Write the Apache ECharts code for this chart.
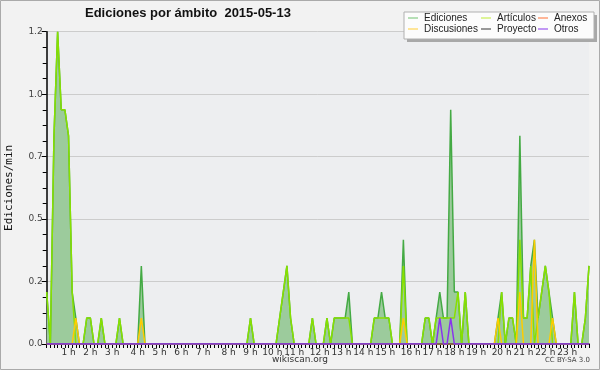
<!DOCTYPE html>
<html><head><meta charset="utf-8">
<script src="https://cdn.jsdelivr.net/npm/echarts@6/dist/echarts.min.js"></script>
<style>html,body{margin:0;padding:0;background:#f2f2f2}#c{width:600px;height:370px}</style>
</head><body><div id="c"></div>
<script>
// 150 time steps of 9.6 minutes across the day
const stepMinutes = 9.6;
const hourLabels = ['1 h','2 h','3 h','4 h','5 h','6 h','7 h','8 h','9 h','10 h','11 h','12 h','13 h','14 h','15 h','16 h','17 h','18 h','19 h','20 h','21 h','22 h','23 h'];
const yTicks = [0, 0.25, 0.5, 0.75, 1.0, 1.25];

const ediciones = [
0.208,0,0.833,1.25,0.9375,0.9375,0.833,0.208,0.104,0,
0,0.104,0.104,0,0,0.104,0,0,0,0,
0.104,0,0,0,0,0,0.3125,0,0,0,
0,0,0,0,0,0,0,0,0,0,
0,0,0,0,0,0,0,0,0,0,
0,0,0,0,0,0,0.104,0,0,0,
0,0,0,0,0.104,0.208,0.3125,0.104,0,0,
0,0,0,0.104,0,0,0,0.104,0,0.104,
0.104,0.104,0.104,0.208,0,0,0,0,0,0,
0.104,0.104,0.208,0.104,0.104,0,0,0,0.417,0,
0,0,0,0,0.104,0.104,0,0.104,0.208,0.104,
0.104,0.9375,0.208,0.208,0,0.208,0,0,0,0,
0,0,0,0,0.104,0.208,0,0.104,0.104,0,
0.833,0.104,0.104,0.3125,0.417,0.104,0.208,0.3125,0.208,0.104,
0,0,0,0,0,0.208,0,0,0.104,0.3125];
const articulos = [
0.208,0,0.833,1.25,0.9375,0.9375,0.833,0.208,0,0,
0,0.104,0.104,0,0,0.104,0,0,0,0,
0.104,0,0,0,0,0,0,0,0,0,
0,0,0,0,0,0,0,0,0,0,
0,0,0,0,0,0,0,0,0,0,
0,0,0,0,0,0,0.104,0,0,0,
0,0,0,0,0.104,0.208,0.3125,0.104,0,0,
0,0,0,0.104,0,0,0,0.104,0,0.104,
0.104,0.104,0.104,0.104,0,0,0,0,0,0,
0.104,0.104,0.104,0.104,0.104,0,0,0,0.3125,0,
0,0,0,0,0.104,0.104,0,0.104,0.104,0.104,
0.104,0.104,0.104,0.208,0,0.208,0,0,0,0,
0,0,0,0,0,0.208,0,0.104,0.104,0,
0.417,0.104,0.104,0.3125,0,0.104,0.208,0.3125,0.208,0,
0,0,0,0,0,0.208,0,0,0.104,0.3125];
const discusiones = [
0,0,0,0,0,0,0,0,0.104,0,
0,0,0,0,0,0,0,0,0,0,
0,0,0,0,0,0,0.104,0,0,0,
0,0,0,0,0,0,0,0,0,0,
0,0,0,0,0,0,0,0,0,0,
0,0,0,0,0,0,0,0,0,0,
0,0,0,0,0,0,0,0,0,0,
0,0,0,0,0,0,0,0,0,0,
0,0,0,0,0,0,0,0,0,0,
0,0,0,0,0,0,0,0,0.104,0,
0,0,0,0,0,0,0,0,0,0,
0,0,0,0,0,0,0,0,0,0,
0,0,0,0,0.104,0,0,0,0,0,
0.208,0,0,0,0.417,0,0,0,0,0.104,
0,0,0,0,0,0,0,0,0,0];
const anexos = [
0,0,0,0,0,0,0,0,0,0,
0,0,0,0,0,0,0,0,0,0,
0,0,0,0,0,0,0,0,0,0,
0,0,0,0,0,0,0,0,0,0,
0,0,0,0,0,0,0,0,0,0,
0,0,0,0,0,0,0,0,0,0,
0,0,0,0,0,0,0,0,0,0,
0,0,0,0,0,0,0,0,0,0,
0,0,0,0,0,0,0,0,0,0,
0,0,0,0,0,0,0,0,0,0,
0,0,0,0,0,0,0,0,0,0,
0,0,0,0,0,0,0,0,0,0,
0,0,0,0,0,0,0,0,0,0,
0,0,0,0,0,0,0,0,0,0,
0,0,0,0,0,0,0,0,0,0];
const proyecto = [
0,0,0,0,0,0,0,0,0,0,
0,0,0,0,0,0,0,0,0,0,
0,0,0,0,0,0,0,0,0,0,
0,0,0,0,0,0,0,0,0,0,
0,0,0,0,0,0,0,0,0,0,
0,0,0,0,0,0,0,0,0,0,
0,0,0,0,0,0,0,0,0,0,
0,0,0,0,0,0,0,0,0,0,
0,0,0,0,0,0,0,0,0,0,
0,0,0,0,0,0,0,0,0,0,
0,0,0,0,0,0,0,0,0,0,
0,0,0,0,0,0,0,0,0,0,
0,0,0,0,0,0,0,0,0,0,
0,0,0,0,0,0,0,0,0,0,
0,0,0,0,0,0,0,0,0,0];
const otros = [
0,0,0,0,0,0,0,0,0,0,
0,0,0,0,0,0,0,0,0,0,
0,0,0,0,0,0,0,0,0,0,
0,0,0,0,0,0,0,0,0,0,
0,0,0,0,0,0,0,0,0,0,
0,0,0,0,0,0,0,0,0,0,
0,0,0,0,0,0,0,0,0,0,
0,0,0,0,0,0,0,0,0,0,
0,0,0,0,0,0,0,0,0,0,
0,0,0,0,0,0,0,0,0,0,
0,0,0,0,0,0,0,0,0.104,0,
0,0.104,0,0,0,0,0,0,0,0,
0,0,0,0,0,0,0,0,0,0,
0,0,0,0,0,0,0,0,0,0,
0,0,0,0,0,0,0,0,0,0];

const categories = ediciones.map((_, i) => {
  const m = Math.round(i * stepMinutes);
  return String(Math.floor(m / 60)).padStart(2, '0') + ':' + String(m % 60).padStart(2, '0');
});
// index of the last step before each hour mark
const labelIndex = {};
hourLabels.forEach((lab, k) => { labelIndex[Math.floor((k + 1) * 60 / stepMinutes)] = lab; });

const chart = echarts.init(document.getElementById('c'), null, {renderer: 'canvas'});
const lineSeries = (name, data, color, z) => ({
  name, type: 'line', data, symbol: 'none', z,
  lineStyle: {color, width: 1.5}, itemStyle: {color}, animation: false
});
const legendText = {fontFamily: 'Liberation Sans', fontSize: 10, color: '#222', padding: [0, 0, 0, 1]};
const legendBase = {orient: 'vertical', itemGap: 1, itemWidth: 10, itemHeight: 1.2, icon: 'rect',
  textStyle: legendText, padding: 0, z: 20};
chart.setOption({
  animation: false,
  backgroundColor: '#f2f2f2',
  title: {text: 'Ediciones por ámbito  2015-05-13', left: 80, top: 2,
    textStyle: {fontFamily: 'Liberation Sans', fontWeight: 'bold', fontSize: 13, color: '#111'}},
  grid: {left: 46.7, right: 11, top: 31.7, bottom: 26, show: true, backgroundColor: '#edeef0',
    borderWidth: 0, containLabel: false, outerBoundsMode: 'none'},
  xAxis: {
    type: 'category', data: categories, boundaryGap: false,
    axisLine: {lineStyle: {color: '#000', width: 1.5}},
    axisTick: {interval: 0, length: 4, lineStyle: {color: '#000'}},
    axisLabel: {interval: (i) => labelIndex[i] !== undefined, formatter: (v, i) => labelIndex[i] || '',
      fontFamily: 'DejaVu Sans', fontSize: 9, color: '#333', margin: 4},
    splitLine: {show: false}
  },
  yAxis: {
    type: 'value', min: 0, max: 1.25, interval: 0.25,
    name: 'Ediciones/min', nameLocation: 'middle', nameGap: 32,
    nameTextStyle: {fontFamily: 'DejaVu Sans Mono', fontSize: 11, color: '#111'},
    axisLine: {show: true, lineStyle: {color: '#000', width: 1.5}},
    axisTick: {show: true, length: 5, lineStyle: {color: '#000'}},
    minorTick: {show: true, splitNumber: 4, length: 4, lineStyle: {color: '#000'}},
    axisLabel: {formatter: (v) => (Math.floor(v * 10 + 1e-9) / 10).toFixed(1),
      fontFamily: 'DejaVu Sans', fontSize: 9, color: '#444', margin: 4},
    splitLine: {lineStyle: {color: '#cccccc', width: 1}}
  },
  legend: [
    Object.assign({}, legendBase, {left: 408, top: 13, data: [
      {name: 'Ediciones', itemStyle: {color: '#88cc88'}}, {name: 'Discusiones', itemStyle: {color: '#ffd555'}}]}),
    Object.assign({}, legendBase, {left: 481, top: 13, data: [
      {name: 'Artículos', itemStyle: {color: '#c8ee55'}}, {name: 'Proyecto', itemStyle: {color: '#555555'}}]}),
    Object.assign({}, legendBase, {left: 538, top: 13, data: [
      {name: 'Anexos', itemStyle: {color: '#ff8855'}}, {name: 'Otros', itemStyle: {color: '#9955ee'}}]})
  ],
  graphic: [
    {type: 'rect', shape: {x: 407, y: 15, width: 190, height: 27}, style: {fill: '#a8a8a8'}, z: 10},
    {type: 'rect', shape: {x: 404, y: 12, width: 190, height: 27}, style: {fill: '#fcfcfc', stroke: '#b0b0b0', lineWidth: 1}, z: 11},
    {type: 'text', left: 'center', top: 355, style: {text: 'wikiscan.org', font: '9px DejaVu Sans', fill: '#333'}},
    {type: 'text', right: 10, top: 357, style: {text: 'CC BY-SA 3.0', font: '7px DejaVu Sans', fill: '#444'}},
    {type: 'rect', shape: {x: 0.5, y: 0.5, width: 599, height: 369}, style: {fill: 'none', stroke: '#aaaaaa', lineWidth: 1}, z: 30}
  ],
  series: [
    Object.assign(lineSeries('Ediciones', ediciones, '#44aa44', 2), {areaStyle: {color: '#9ccb9c', opacity: 1}}),
    lineSeries('Artículos', articulos, '#88e000', 3),
    lineSeries('Discusiones', discusiones, '#ffcc00', 4),
    lineSeries('Anexos', anexos, '#ff8855', 5),
    lineSeries('Proyecto', proyecto, '#555555', 6),
    lineSeries('Otros', otros, '#8833ee', 7)
  ]
});
</script></body></html>
